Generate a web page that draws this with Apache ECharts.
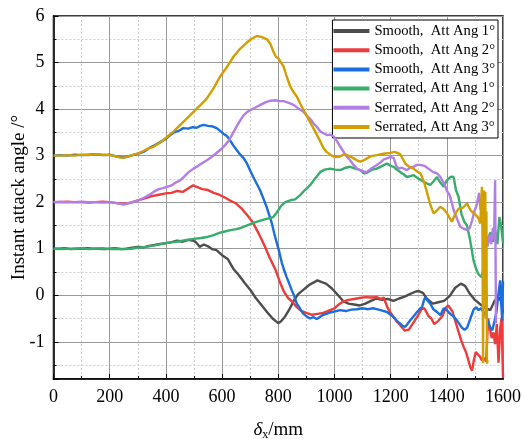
<!DOCTYPE html>
<html><head><meta charset="utf-8">
<script src="https://cdn.jsdelivr.net/npm/echarts@6/dist/echarts.min.js"></script>
<style>html,body{margin:0;padding:0;background:#fff}#c{width:525px;height:439px}</style>
</head><body><div id="c"></div>
<script>
const seriesNames = ['Smooth,  Att Ang 1°','Smooth,  Att Ang 2°','Smooth,  Att Ang 3°','Serrated, Att Ang 1°','Serrated, Att Ang 2°','Serrated, Att Ang 3°'];
const seriesColors = ['#4d4d4d','#ee3b3b','#1a6fdf','#37ad6b','#b27ee6','#d29e00'];
const xTicks = [0,200,400,600,800,1000,1200,1400,1600];
const yTicks = [-1,0,1,2,3,4,5,6];

const smooth1X = [0,20,40,60,80,100,120,140,160,180,200,220,240,260,280,300,320,340,360,380,400,420,440,460,480,500,510,520,535,550,565,580,600,620,640,660,680,700,720,740,760,780,790,800,810,825,840,855,870,890,910,925,940,955,970,990,1010,1030,1050,1070,1090,1110,1130,1150,1170,1190,1210,1230,1250,1270,1290,1300,1315,1330,1350,1370,1390,1410,1430,1450,1465,1480,1500,1520,1540,1555,1570,1585,1595,1600];
const smooth1Y = [1.00,1.00,1.01,0.99,1.00,1.00,1.01,1.00,1.00,0.99,1.00,1.01,0.99,1.00,1.02,1.04,1.03,1.06,1.08,1.10,1.12,1.14,1.17,1.15,1.19,1.17,1.12,1.04,1.09,1.05,0.99,0.97,0.86,0.78,0.57,0.43,0.27,0.12,-0.06,-0.21,-0.36,-0.50,-0.55,-0.60,-0.56,-0.45,-0.30,-0.12,0.02,0.12,0.22,0.27,0.32,0.28,0.25,0.15,0.02,-0.12,-0.18,-0.20,-0.22,-0.18,-0.12,-0.07,-0.10,-0.08,-0.12,-0.07,-0.03,0.03,0.08,0.09,0.05,-0.08,-0.18,-0.15,-0.12,-0.02,0.16,0.25,0.20,0.05,-0.10,-0.20,-0.28,-0.32,-0.12,-0.05,-0.15,-0.38];

const smooth2X = [0,25,50,75,100,125,150,175,200,225,250,275,300,325,350,375,400,420,440,460,480,497,510,530,550,570,590,610,630,650,670,690,710,730,750,770,790,806,820,835,850,865,880,900,920,940,960,980,1000,1015,1030,1050,1070,1090,1110,1130,1150,1165,1175,1190,1205,1220,1235,1250,1265,1280,1295,1310,1320,1335,1345,1355,1370,1385,1395,1405,1420,1430,1440,1450,1460,1468,1476,1484,1490,1496,1503,1510,1518,1525,1532,1540,1547,1553,1560,1566,1572,1578,1584,1590,1595,1600];
const smooth2Y = [2.00,2.00,2.01,2.00,2.00,1.99,2.00,2.01,2.00,1.98,1.96,1.99,2.04,2.08,2.13,2.16,2.19,2.20,2.24,2.22,2.30,2.36,2.33,2.28,2.26,2.20,2.16,2.10,2.03,1.97,1.86,1.72,1.56,1.33,1.08,0.80,0.55,0.28,0.08,-0.06,-0.14,-0.25,-0.33,-0.38,-0.42,-0.40,-0.38,-0.33,-0.28,-0.20,-0.14,-0.10,-0.08,-0.06,-0.04,-0.05,-0.04,-0.08,-0.05,-0.28,-0.42,-0.55,-0.65,-0.76,-0.74,-0.60,-0.46,-0.30,-0.28,-0.45,-0.50,-0.62,-0.55,-0.44,-0.28,-0.22,-0.35,-0.55,-0.75,-0.95,-1.11,-1.22,-1.38,-1.55,-1.62,-1.40,-1.22,-1.20,-1.32,-1.40,-1.35,-1.42,-0.50,-0.70,-0.92,-0.80,-1.05,-0.62,-1.45,-0.72,-0.48,-1.78];

const smooth3X = [0,25,50,75,100,125,150,175,200,225,250,275,300,320,340,360,380,400,415,430,445,462,480,495,510,522,534,550,565,581,595,605,617,628,640,652,665,676,688,699,711,723,735,747,759,768,777,786,795,804,813,822,830,839,848,857,866,877,888,900,913,925,937,948,960,972,984,1000,1020,1040,1060,1079,1100,1120,1137,1151,1170,1187,1200,1211,1222,1234,1243,1252,1262,1270,1282,1294,1303,1312,1318,1323,1332,1341,1352,1365,1377,1389,1400,1412,1424,1436,1445,1454,1463,1472,1484,1496,1505,1513,1522,1530,1540,1548,1555,1562,1570,1577,1582,1587,1590,1594,1597,1600];
const smooth3Y = [3.00,3.01,3.00,3.02,3.01,3.02,3.03,3.01,3.02,2.98,2.96,3.00,3.04,3.08,3.16,3.22,3.29,3.36,3.44,3.50,3.53,3.59,3.58,3.61,3.60,3.64,3.66,3.64,3.63,3.59,3.52,3.47,3.42,3.33,3.22,3.12,3.02,2.95,2.84,2.69,2.54,2.40,2.26,2.08,1.89,1.72,1.55,1.32,1.12,0.92,0.69,0.52,0.39,0.25,0.11,-0.02,-0.18,-0.28,-0.39,-0.45,-0.50,-0.47,-0.51,-0.47,-0.42,-0.40,-0.37,-0.35,-0.32,-0.34,-0.31,-0.30,-0.28,-0.30,-0.28,-0.30,-0.33,-0.36,-0.42,-0.47,-0.55,-0.61,-0.66,-0.68,-0.60,-0.54,-0.45,-0.36,-0.30,-0.25,-0.12,-0.04,-0.12,-0.18,-0.30,-0.36,-0.43,-0.28,-0.32,-0.40,-0.46,-0.54,-0.62,-0.70,-0.74,-0.70,-0.50,-0.30,-0.26,-0.32,-0.28,-0.36,-0.45,-0.60,-0.70,-0.75,-0.55,-0.35,-0.05,0.18,0.32,-0.20,-0.54,0.30];

const serrated1X = [0,25,50,75,100,125,150,175,200,225,250,275,300,330,360,390,426,450,475,500,525,546,570,590,610,630,650,664,685,705,725,745,765,782,795,810,825,843,860,878,895,914,930,950,965,985,1003,1021,1040,1056,1075,1092,1105,1116,1135,1151,1170,1187,1200,1211,1222,1234,1246,1258,1270,1282,1300,1318,1330,1341,1353,1365,1377,1389,1398,1407,1415,1424,1433,1442,1452,1462,1472,1483,1495,1505,1513,1524,1532,1540,1548,1556,1565,1572,1580,1587,1593,1600];
const serrated1Y = [1.00,0.99,1.00,1.00,1.01,0.99,1.00,1.01,0.99,1.00,0.99,1.00,1.02,1.04,1.07,1.11,1.14,1.16,1.19,1.21,1.23,1.25,1.29,1.34,1.37,1.40,1.42,1.44,1.49,1.54,1.58,1.62,1.65,1.68,1.78,1.92,2.00,2.04,2.06,2.15,2.26,2.37,2.50,2.65,2.70,2.72,2.70,2.69,2.74,2.76,2.72,2.69,2.62,2.63,2.70,2.72,2.78,2.83,2.78,2.76,2.70,2.65,2.60,2.54,2.56,2.58,2.50,2.44,2.40,2.37,2.45,2.54,2.42,2.33,2.45,2.51,2.55,2.54,2.25,2.11,1.75,1.58,1.50,1.18,0.75,0.55,0.45,0.39,0.60,1.10,1.25,1.35,1.15,1.40,1.10,1.68,1.50,1.12];

const serrated2X = [0,25,50,75,100,125,150,175,200,225,250,275,300,320,340,356,375,390,404,420,435,451,465,480,498,515,530,546,560,575,593,610,625,641,655,667,677,690,705,724,740,756,772,790,805,819,835,855,870,890,905,915,926,940,950,961,975,985,997,1010,1021,1035,1045,1056,1068,1080,1092,1104,1116,1130,1151,1165,1176,1187,1199,1211,1220,1228,1240,1258,1270,1282,1294,1306,1320,1335,1350,1365,1377,1390,1400,1410,1418,1424,1436,1448,1460,1472,1482,1490,1498,1507,1515,1520,1525,1530,1538,1545,1552,1558,1564,1568,1572,1575];
const serrated2Y = [2.00,2.01,2.00,2.00,2.01,2.00,2.00,1.99,2.00,1.98,1.95,1.99,2.03,2.09,2.15,2.22,2.28,2.30,2.33,2.36,2.42,2.47,2.55,2.64,2.72,2.78,2.84,2.90,2.96,3.03,3.12,3.22,3.33,3.51,3.66,3.78,3.87,3.94,3.99,4.05,4.10,4.15,4.18,4.19,4.17,4.17,4.14,4.09,4.02,3.94,3.84,3.78,3.69,3.60,3.52,3.48,3.44,3.45,3.41,3.30,3.19,3.06,2.97,2.90,2.80,2.72,2.69,2.66,2.65,2.72,2.80,2.86,2.92,2.94,2.97,2.95,2.78,2.72,2.74,2.69,2.74,2.76,2.80,2.80,2.78,2.72,2.65,2.62,2.54,2.40,2.25,2.15,1.98,1.83,1.65,1.47,1.43,1.40,1.45,1.61,1.80,1.95,2.20,1.85,1.75,1.55,1.20,1.05,1.30,1.10,1.45,1.20,2.47,-0.60];

const serrated3X = [0,25,50,75,100,125,150,175,200,225,245,265,285,303,320,340,356,380,404,428,451,475,498,522,546,570,593,617,641,665,688,705,724,740,760,772,783,792,801,810,819,830,843,855,866,878,890,908,926,938,950,962,972,979,990,1003,1020,1035,1045,1056,1068,1080,1092,1104,1116,1130,1151,1175,1199,1215,1234,1246,1252,1266,1282,1294,1306,1318,1329,1341,1353,1365,1377,1389,1401,1410,1418,1430,1442,1457,1472,1484,1496,1508,1515,1519,1523,1525,1527,1529,1531,1533,1535,1537,1539,1541,1543,1545];
const serrated3Y = [3.00,3.00,3.01,3.00,3.02,3.01,3.03,3.02,3.01,2.98,2.95,2.98,3.02,3.05,3.10,3.16,3.19,3.28,3.40,3.52,3.66,3.80,3.94,4.08,4.23,4.45,4.70,4.90,5.13,5.30,5.43,5.51,5.57,5.55,5.50,5.40,5.23,5.12,5.09,5.00,4.91,4.70,4.48,4.36,4.27,4.12,3.98,3.78,3.58,3.44,3.30,3.15,3.08,3.05,3.00,2.97,2.98,3.03,3.01,2.98,2.94,2.90,2.87,2.90,2.94,2.99,3.01,3.04,3.06,3.08,3.03,2.90,2.83,2.76,2.72,2.66,2.62,2.45,2.22,1.95,1.76,1.82,1.90,1.85,1.76,1.66,1.58,1.75,1.86,1.88,1.97,1.83,1.76,1.70,1.62,1.54,2.05,2.33,1.20,-1.46,1.50,2.25,0.50,2.22,-0.50,1.80,-1.47,-1.40];

const allX = [smooth1X, smooth2X, smooth3X, serrated1X, serrated2X, serrated3X];
const allY = [smooth1Y, smooth2Y, smooth3Y, serrated1Y, serrated2Y, serrated3Y];

const FF = 'Liberation Serif';
const chart = echarts.init(document.getElementById('c'), null, {renderer: 'canvas'});
const series = seriesNames.map((n, i) => ({
  name: n, type: 'line', showSymbol: false, symbol: 'none',
  data: allX[i].map((x, k) => [x, allY[i][k]]),
  lineStyle: {color: seriesColors[i], width: 2.4},
  itemStyle: {color: seriesColors[i]},
  z: 2 + i, animation: false
}));

chart.setOption({
  animation: false,
  backgroundColor: '#fff',
  grid: {left: 53.5, right: 22, top: 16, bottom: 60, containLabel: false, outerBoundsMode: 'none',
    show: true, borderColor: '#000', borderWidth: 1.5, backgroundColor: 'transparent'},
  legend: {
    orient: 'vertical', right: 27, top: 20, data: seriesNames,
    backgroundColor: '#fff', borderColor: '#000', borderWidth: 1,
    padding: [3, 3, 3, 1], itemGap: 3.2, itemWidth: 36, itemHeight: 4, icon: 'rect',
    textStyle: {fontFamily: FF, fontSize: 14.6, color: '#000', lineHeight: 16}
  },
  xAxis: {
    type: 'value', min: xTicks[0], max: xTicks[xTicks.length - 1], interval: 200,
    name: '{d|δ}{s|x}{n|/mm}', nameLocation: 'middle', nameGap: 40,
    nameTextStyle: {rich: {
      d: {fontFamily: FF, fontSize: 19, fontStyle: 'italic', color: '#000', lineHeight: 22},
      s: {fontFamily: FF, fontSize: 12, color: '#000', lineHeight: 12, verticalAlign: 'bottom'},
      n: {fontFamily: FF, fontSize: 19, color: '#000', lineHeight: 22}
    }},
    axisLine: {show: true, onZero: false, lineStyle: {color: '#000', width: 1.5}},
    axisTick: {show: true, inside: true, length: 5, lineStyle: {color: '#000', width: 1}},
    minorTick: {show: true, splitNumber: 2, length: 3, lineStyle: {color: '#000', width: 1}},
    axisLabel: {fontFamily: FF, fontSize: 18, color: '#000', margin: 9, formatter: v => String(v)},
    splitLine: {show: true, lineStyle: {color: '#9a9a9a', width: 1}},
    minorSplitLine: {show: true, lineStyle: {color: '#cfcfcf', width: 1, type: [2, 2]}}
  },
  yAxis: {
    type: 'value', min: -1.8, max: 6, splitNumber: 8,
    name: 'Instant attack angle /°', nameLocation: 'middle', nameGap: 25, nameMoveOverlap: false,
    nameTextStyle: {fontFamily: FF, fontSize: 19, color: '#000'},
    axisLine: {show: true, onZero: false, lineStyle: {color: '#000', width: 1.5}},
    axisTick: {show: true, inside: true, length: 5, lineStyle: {color: '#000', width: 1}},
    minorTick: {show: true, splitNumber: 2, length: 3, lineStyle: {color: '#000', width: 1}},
    axisLabel: {fontFamily: FF, fontSize: 18, color: '#000', margin: 9, showMinLabel: false,
      formatter: v => (yTicks.indexOf(Math.round(v)) >= 0 && Math.abs(v - Math.round(v)) < 1e-6 ? String(Math.round(v)) : '')},
    splitLine: {show: true, lineStyle: {color: '#9a9a9a', width: 1}},
    minorSplitLine: {show: true, lineStyle: {color: '#cfcfcf', width: 1, type: [2, 2]}}
  },
  series: series
});
</script>
</body></html>
